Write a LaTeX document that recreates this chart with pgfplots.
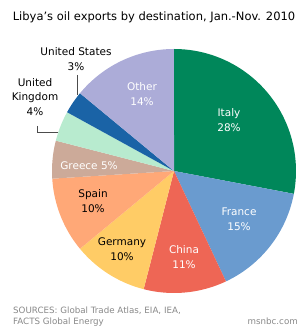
\documentclass[border=0pt]{standalone}
\usepackage{pgfplots}
\pgfplotsset{compat=1.18}
\usepackage{pgfplotstable}
\usepackage{fontspec}
\setmainfont{DejaVu Sans}
\definecolor{italy}{HTML}{00875A}
\definecolor{france}{HTML}{6A9BCF}
\definecolor{china}{HTML}{EE6655}
\definecolor{germany}{HTML}{FFCC66}
\definecolor{spain}{HTML}{FFA877}
\definecolor{greece}{HTML}{CCAA99}
\definecolor{uk}{HTML}{B8EBCF}
\definecolor{us}{HTML}{1A63A6}
\definecolor{other}{HTML}{ACACD8}
\definecolor{src}{HTML}{888888}
% shares in percent, clockwise from 12 o'clock
\pgfplotstableread{
name start pct
Italy 0 28
France 28 15
China 43 11
Germany 54 10
Spain 64 10
Greece 74 5
UK 79 4
US 83 3
Other 86 14
}\piedata
\newcommand{\slice}[3]{% start, pct, color
  \addplot[fill=#3, draw=none, domain=#1:#1+#2, samples=80, variable=\t]
    ({174+122*sin(3.6*\t)}, {162+122*cos(3.6*\t)}) -- (axis cs:174,162) -- cycle;
}
\begin{document}
\begin{tikzpicture}
\begin{axis}[
  scale only axis, width=308bp, height=333bp,
  xmin=0, xmax=308, ymin=0, ymax=333,
  hide axis, clip=false,
]
\path (axis cs:0,0) rectangle (axis cs:308,333);
\slice{0}{28}{italy}
\slice{28}{15}{france}
\slice{43}{11}{china}
\slice{54}{10}{germany}
\slice{64}{10}{spain}
\slice{74}{5}{greece}
\slice{79}{4}{uk}
\slice{83}{3}{us}
\slice{86}{14}{other}

\def\lf{\fontsize{10.5bp}{14.5bp}\selectfont}
\node[white, align=center, font=\lf] at (axis cs:229,213) {Italy\\28\%};
\node[white, align=center, font=\lf] at (axis cs:239,114) {France\\15\%};
\node[white, align=center, font=\lf] at (axis cs:184,76) {China\\11\%};
\node[black, align=center, font=\lf] at (axis cs:122,84) {Germany\\10\%};
\node[black, align=center, font=\lf] at (axis cs:93,132) {Spain\\10\%};
\node[white, align=center, font=\lf] at (axis cs:89,167) {Greece 5\%};
\node[white, align=center, font=\lf] at (axis cs:142,239) {Other\\14\%};
\node[black, align=center, font=\lf] at (axis cs:76,274) {United States\\3\%};
\node[black, align=center, font=\lf] at (axis cs:35,236) {United\\Kingdom\\4\%};
\draw[black!70, line width=0.8pt] (axis cs:77,258) -- (axis cs:77,238);
\draw[black!70, line width=0.8pt] (axis cs:37,207) -- (axis cs:37,201) -- (axis cs:58,201);

\node[anchor=base, font=\fontsize{11.5bp}{13bp}\selectfont] at (axis cs:154,312) {Libya's oil exports by destination, Jan.-Nov. 2010};
\node[anchor=base west, src, font=\fontsize{8.7bp}{11bp}\selectfont, inner sep=0pt] at (axis cs:13,20) {SOURCES: Global Trade Atlas, EIA, IEA,};
\node[anchor=base west, src, font=\fontsize{8.7bp}{11bp}\selectfont, inner sep=0pt] at (axis cs:13,9) {FACTS Global Energy};
\node[anchor=base east, src, font=\fontsize{8.7bp}{11bp}\selectfont, inner sep=0pt] at (axis cs:298,9) {msnbc.com};
\end{axis}
\end{tikzpicture}
\end{document}
